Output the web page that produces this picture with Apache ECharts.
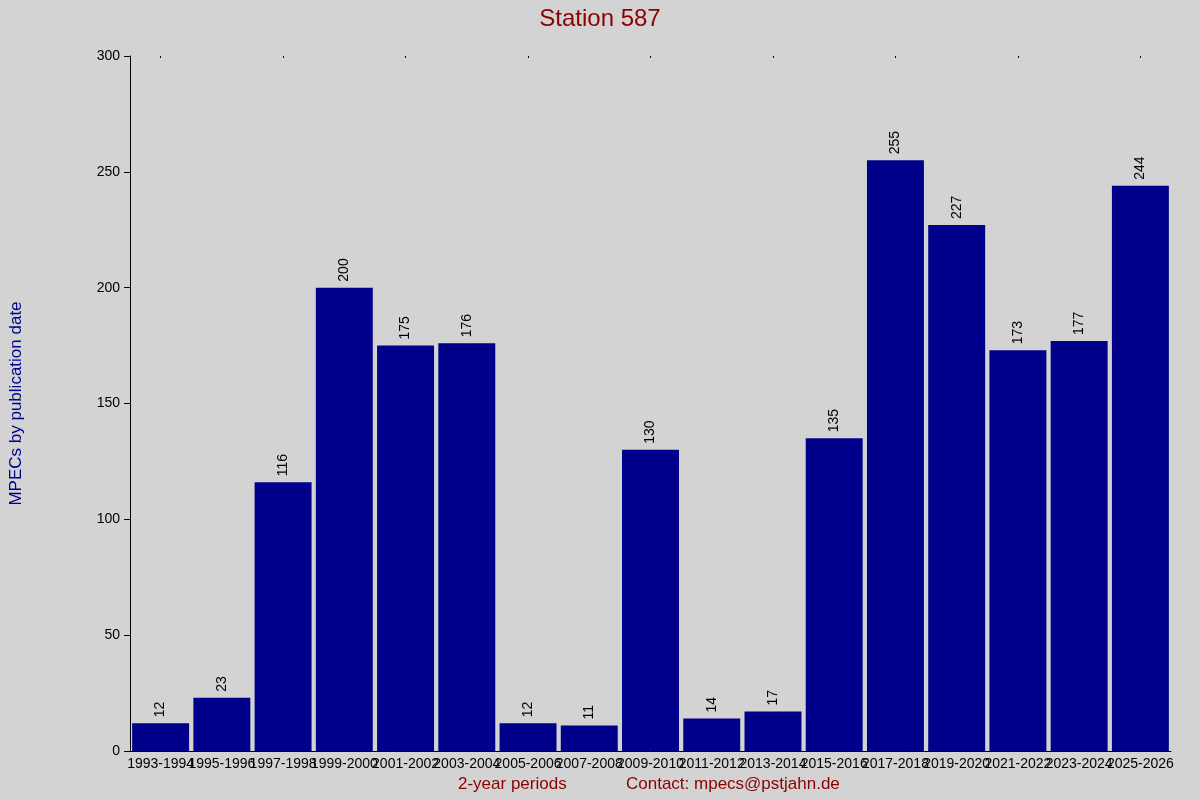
<!DOCTYPE html>
<html><head><meta charset="utf-8">
<script src="https://cdn.jsdelivr.net/npm/echarts@6/dist/echarts.min.js"></script>
<style>html,body{margin:0;padding:0;background:#d3d3d3}#c{width:1200px;height:800px}</style>
</head><body><div id="c"></div>
<script>
const categories = ["1993-1994","1995-1996","1997-1998","1999-2000","2001-2002","2003-2004","2005-2006","2007-2008","2009-2010","2011-2012","2013-2014","2015-2016","2017-2018","2019-2020","2021-2022","2023-2024","2025-2026"];
const values = [12,23,116,200,175,176,12,11,130,14,17,135,255,227,173,177,244];
const yTicks = [0,50,100,150,200,250,300];
const chart = echarts.init(document.getElementById('c'));
chart.setOption({
  backgroundColor:'#d3d3d3',
  animation:false,
  title:{text:'Station 587',left:'center',top:2,textStyle:{color:'#8b0000',fontSize:24,fontWeight:'normal',fontFamily:'Liberation Sans'}},
  graphic:[
    {type:'text',left:458,top:776,style:{text:'2-year periods',fill:'#8b0000',font:'17px Liberation Sans'}},
    {type:'text',left:626,top:776,style:{text:'Contact: mpecs@pstjahn.de',fill:'#8b0000',font:'17px Liberation Sans'}}
  ],
  grid:{left:127,right:29,top:56,bottom:49},
  xAxis:[{type:'category',data:categories,
    axisLine:{lineStyle:{color:'#000'}},axisTick:{show:false},
    axisLabel:{color:'#000',fontSize:14,interval:0,margin:6,fontFamily:'Liberation Sans'}},
    {type:'category',data:categories,position:'top',axisLine:{show:false},axisTick:{show:true,alignWithLabel:true,length:-2,lineStyle:{color:'#000'}},axisLabel:{show:false}}],
  yAxis:{type:'value',min:0,max:300,interval:50,
    name:'MPECs by publication date',nameLocation:'middle',nameGap:105,
    nameTextStyle:{color:'#00008b',fontSize:17,fontFamily:'Liberation Sans'},
    axisLine:{show:true,lineStyle:{color:'#000'}},axisTick:{show:true,length:6,lineStyle:{color:'#000'}},
    splitLine:{show:false},
    axisLabel:{color:'#000',fontSize:14,margin:10,fontFamily:'Liberation Sans'}},
  series:[{type:'bar',data:values,barCategoryGap:'7%',itemStyle:{color:'#00008b'},
    label:{show:true,position:'top',rotate:90,align:'left',verticalAlign:'middle',distance:6,color:'#000',fontSize:14,fontFamily:'Liberation Sans'}}]
});
</script></body></html>
